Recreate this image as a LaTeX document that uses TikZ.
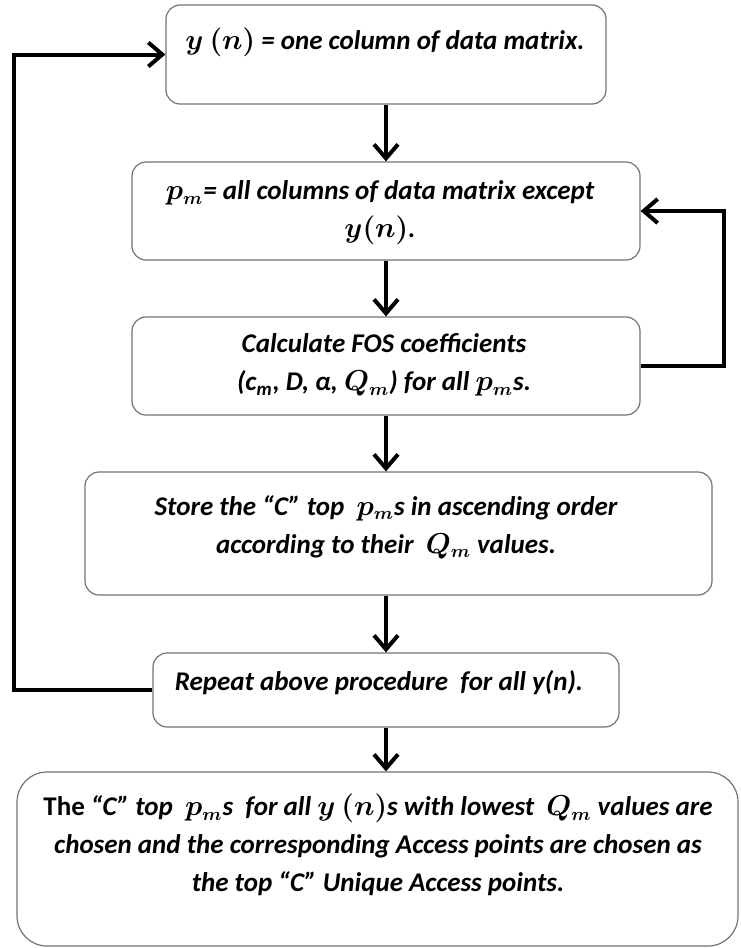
\documentclass[tikz,border=0pt]{standalone}
\usepackage{amsmath}
\usepackage{amssymb}
\usepackage{fontspec}
\setmainfont{Carlito}
\usetikzlibrary{arrows.meta,fit}

\newcommand{\pmv}{$p_m$}
\newcommand{\qmv}{$Q_m$}

\begin{document}
\begin{tikzpicture}[x=0.5pt,y=0.5pt]
\tikzset{
  box/.style={draw=black!55, line width=0.6pt, rounded corners=7pt, inner sep=0pt},
  txt/.style={font=\fontsize{13.5}{19}\selectfont\bfseries\itshape\boldmath, align=center, inner sep=0pt},
  flow/.style={line width=2pt, -{Straight Barb[length=7pt,width=12pt]}}
}
\useasboundingbox (0,0) rectangle (740,-948);
% boxes
\node [box, fit={(166,-5) (606,-104)}] (b1) {};
\node [box, fit={(132,-162) (640,-260)}] (b2) {};
\node [box, fit={(132,-317) (640,-415)}] (b3) {};
\node [box, fit={(85,-472) (712,-595)}] (b4) {};
\node [box, fit={(153,-653) (619,-727)}] (b5) {};
\node [box, rounded corners=15pt, fit={(17,-772) (738,-946)}] (b6) {};
% texts
\node [txt] (t1) at (385,-42) {$y\ (n)$ = one column of data matrix.};
\node [txt] (t2) at (380,-213) {\pmv= all columns of data matrix except\\ $y(n)$.};
\node [txt] (t3) at (384,-365) {Calculate FOS coefficients\\ (c\textsubscript{m}, D, α, \qmv) for all \pmv s.};
\node [txt] (t4) at (386,-527) {Store the “C” top \ \pmv s in ascending order\\ according to their \ \qmv\ values.};
\node [txt] (t5) at (379,-683) {Repeat above procedure \ for all y(n).};
\node [txt] (t6) at (378,-845) {\upshape The \itshape “C” top \ \pmv s \ for all $y\ (n)$s with lowest \ \qmv\ values are\\ chosen and the corresponding Access points are chosen as\\ the top “C” Unique Access points.};
% connectors
\draw [flow] (b1.south) -- (b1.south |- b2.north);
\draw [flow] (b2.south) -- (b2.south |- b3.north);
\draw [flow] (b3.south) -- (b3.south |- b4.north);
\draw [flow] (b3.south |- b4.south) -- (b3.south |- b5.north);
\draw [flow] (b5.south) -- (b5.south |- b6.north);
\draw [flow] (b3.east) -- ++(83,0) |- (b2.east);
\draw [flow] (b5.west) -- ++(-138,0) |- (b1.west);
\end{tikzpicture}
\end{document}
